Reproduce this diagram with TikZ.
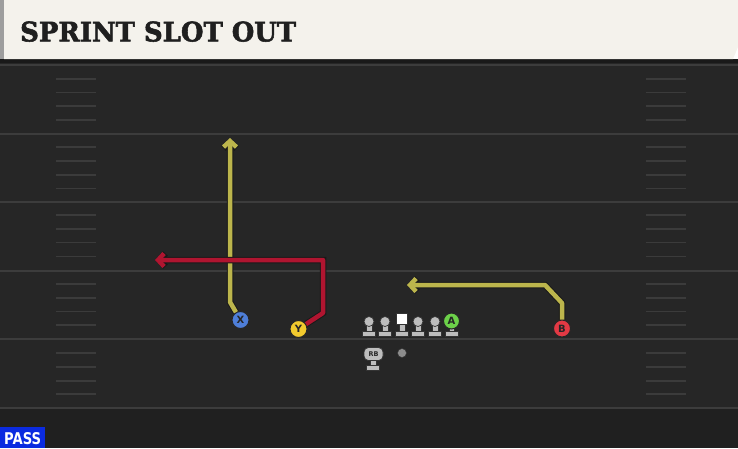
\documentclass[tikz,border=0pt]{standalone}
\usepackage{fontspec}
\setmainfont{DejaVu Serif}
\newfontfamily\titlefont[FakeBold=2]{DejaVu Serif Bold}
\newfontfamily\labelfont{DejaVu Sans}
\usetikzlibrary{arrows.meta}

\definecolor{fieldbg}{HTML}{262626}
\definecolor{fieldlow}{HTML}{202020}
\definecolor{yardline}{HTML}{3C3C3C}
\definecolor{hashline}{HTML}{3B3B3B}
\definecolor{headcream}{HTML}{F4F2EC}
\definecolor{routeyellow}{HTML}{BCB54C}
\definecolor{routered}{HTML}{B01530}
\definecolor{xblue}{HTML}{4E7ED8}
\definecolor{yyellow}{HTML}{F2CA2E}
\definecolor{bred}{HTML}{E23944}
\definecolor{agreen}{HTML}{6CD149}
\definecolor{linegrey}{HTML}{BDBDBD}
\definecolor{passblue}{HTML}{0B2BE0}

\tikzset{
  yard/.style={draw=yardline,line width=2},
  hash/.style={draw=hashline,line width=1.8},
  route/.style={line width=4.5,line join=round,
    -{Straight Barb[length=6pt,width=13pt]},
    preaction={draw=black!90,line width=6.5}},
  player/.style={circle,draw=black!85,line width=1,minimum size=17,inner sep=0,
    font=\labelfont\bfseries\fontsize{10}{10}\selectfont,text=black!85},
  lineman/.style={fill=linegrey,draw=black!80,line width=0.7}
}

\begin{document}
\begin{tikzpicture}[x=1pt,y=-1pt]
\useasboundingbox (0,0) rectangle (738,448);
% field
\fill[fieldbg] (0,59) rectangle (738,448);
\fill[fieldlow] (0,408) rectangle (738,448);
\fill[black!90] (0,59) rectangle (738,63);
% yard lines
\draw[yard] (0,65) -- (738,65);
\draw[yard] (0,133.6) -- (738,133.6);
\draw[yard] (0,202.2) -- (738,202.2);
\draw[yard] (0,270.8) -- (738,270.8);
\draw[yard] (0,339.4) -- (738,339.4);
\draw[yard] (0,408) -- (738,408);
% hash marks
\draw[hash] (56,78.7) -- (96,78.7) (646,78.7) -- (686,78.7);
\draw[hash] (56,92.4) -- (96,92.4) (646,92.4) -- (686,92.4);
\draw[hash] (56,106.2) -- (96,106.2) (646,106.2) -- (686,106.2);
\draw[hash] (56,119.9) -- (96,119.9) (646,119.9) -- (686,119.9);
\draw[hash] (56,147.3) -- (96,147.3) (646,147.3) -- (686,147.3);
\draw[hash] (56,161.0) -- (96,161.0) (646,161.0) -- (686,161.0);
\draw[hash] (56,174.8) -- (96,174.8) (646,174.8) -- (686,174.8);
\draw[hash] (56,188.5) -- (96,188.5) (646,188.5) -- (686,188.5);
\draw[hash] (56,215.2) -- (96,215.2) (646,215.2) -- (686,215.2);
\draw[hash] (56,229.2) -- (96,229.2) (646,229.2) -- (686,229.2);
\draw[hash] (56,242.4) -- (96,242.4) (646,242.4) -- (686,242.4);
\draw[hash] (56,256.4) -- (96,256.4) (646,256.4) -- (686,256.4);
\draw[hash] (56,284.0) -- (96,284.0) (646,284.0) -- (686,284.0);
\draw[hash] (56,297.8) -- (96,297.8) (646,297.8) -- (686,297.8);
\draw[hash] (56,311.5) -- (96,311.5) (646,311.5) -- (686,311.5);
\draw[hash] (56,325.2) -- (96,325.2) (646,325.2) -- (686,325.2);
\draw[hash] (56,353.1) -- (96,353.1) (646,353.1) -- (686,353.1);
\draw[hash] (56,366.8) -- (96,366.8) (646,366.8) -- (686,366.8);
\draw[hash] (56,380.6) -- (96,380.6) (646,380.6) -- (686,380.6);
\draw[hash] (56,394.3) -- (96,394.3) (646,394.3) -- (686,394.3);
% header
\fill[headcream] (4,0) -- (738,0) -- (738,47) -- (733,59) -- (4,59) -- cycle;
\fill[black!38] (0,0) rectangle (4,59);
\node[anchor=south west,inner sep=0,text=black!88] (title) at (20,42)
  {\resizebox{276pt}{20pt}{\titlefont SPRINT SLOT OUT}};
% offensive line
\draw[lineman] (366,321) rectangle (372,332);
\draw[lineman] (362.5,331) rectangle (375.5,336);
\draw[lineman] (369,321.5) circle (5);
\draw[lineman] (382,321) rectangle (388,332);
\draw[lineman] (378.5,331) rectangle (391.5,336);
\draw[lineman] (385,321.5) circle (5);
\draw[lineman] (399,321) rectangle (405,332);
\draw[lineman] (395.5,331) rectangle (408.5,336);
\draw[fill=white,draw=black!80,line width=0.7] (396.5,313) rectangle (407.5,324);
\draw[lineman] (415,321) rectangle (421,332);
\draw[lineman] (411.5,331) rectangle (424.5,336);
\draw[lineman] (418,321.5) circle (5);
\draw[lineman] (432,321) rectangle (438,332);
\draw[lineman] (428.5,331) rectangle (441.5,336);
\draw[lineman] (435,321.5) circle (5);
\draw[lineman] (449,325) rectangle (454,332);
\draw[lineman] (445,331) rectangle (458,336);
\node[player,fill=agreen,minimum size=16] (A) at (451.5,321) {A};
% backfield
\draw[lineman] (370,357) rectangle (376,366);
\draw[lineman] (366.5,365) rectangle (379.5,370);
\node[lineman,rounded corners=4.5,minimum width=19,minimum height=13,inner sep=0,
  font=\labelfont\bfseries\fontsize{6.5}{6.5}\selectfont,text=black!85] (RB) at (373.5,354) {RB};
\node[circle,fill=black!45,draw=black!80,line width=0.5,minimum size=9,inner sep=0] (ball) at (402,353) {};
% receivers
\node[player,fill=xblue] (X) at (240.5,320) {X};
\node[player,fill=yyellow] (Y) at (298.5,329) {Y};
\node[player,fill=bred] (B) at (562,328.5) {B};
% routes
\coordinate (Xbrk) at (230,302);
\coordinate (Xend) at (230,138);
\coordinate (Ybrk) at (323,313);
\coordinate (Ycut) at (323,260);
\coordinate (Yend) at (155,260);
\coordinate (Bbrk) at (562,303);
\coordinate (Bcut) at (545,285);
\coordinate (Bend) at (407,285);
\draw[route,draw=routeyellow] (X) -- (Xbrk) -- (Xend);
\draw[route,draw=routered] (Y) -- (Ybrk) -- (Ycut) -- (Yend);
\draw[route,draw=routeyellow] (B) -- (Bbrk) -- (Bcut) -- (Bend);
% play type
\fill[passblue] (0,427) rectangle (45,448);
\node[anchor=south west,inner sep=0,text=white] (pass) at (4,445)
  {\resizebox{37pt}{12pt}{\labelfont\bfseries PASS}};
\end{tikzpicture}
\end{document}
